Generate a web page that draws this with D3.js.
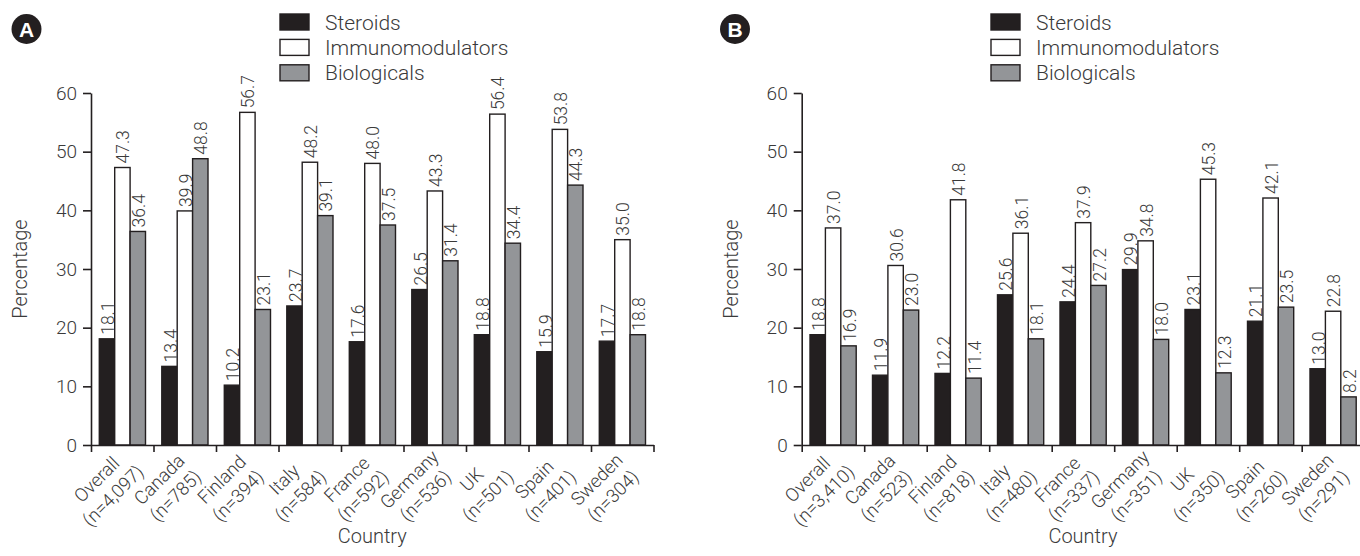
<!DOCTYPE html>
<html>
<head>
<meta charset="utf-8">
<script src="https://cdn.jsdelivr.net/npm/d3@7"></script>
<style>
  body { margin: 0; background: #fff; }
  svg { display: block; font-family: Roboto, "Liberation Sans", sans-serif; font-weight: 300; }
  .domain, .tick line { stroke: #231f20; stroke-width: 1.6px; }
  .tick text { fill: #3a3a3a; font-size: 19px; font-family: Roboto, "Liberation Sans", sans-serif; font-weight: 300; }
</style>
</head>
<body>
<svg id="chart" width="1360" height="556"></svg>
<script>
(function() {

  'use strict';

  var countries = ['Overall', 'Canada', 'Finland', 'Italy', 'France', 'Germany', 'UK', 'Spain', 'Sweden'];
  var series = ['Steroids', 'Immunomodulators', 'Biologicals'];
  var nA = ['4,097', '785', '394', '584', '592', '536', '501', '401', '304'];
  var nB = ['3,410', '523', '818', '480', '337', '351', '350', '260', '291'];

  var steroidsA = [18.1, 13.4, 10.2, 23.7, 17.6, 26.5, 18.8, 15.9, 17.7];
  var immunoA   = [47.3, 39.9, 56.7, 48.2, 48.0, 43.3, 56.4, 53.8, 35.0];
  var bioA      = [36.4, 48.8, 23.1, 39.1, 37.5, 31.4, 34.4, 44.3, 18.8];

  var steroidsB = [18.8, 11.9, 12.2, 25.6, 24.4, 29.9, 23.1, 21.1, 13.0];
  var immunoB   = [37.0, 30.6, 41.8, 36.1, 37.9, 34.8, 45.3, 42.1, 22.8];
  var bioB      = [16.9, 23.0, 11.4, 18.1, 27.2, 18.0, 12.3, 23.5, 8.2];

  var yTicks = [0, 10, 20, 30, 40, 50, 60];

  var fills = { Steroids: '#231f20', Immunomodulators: '#ffffff', Biologicals: '#939598' };
  var strokeColor = '#231f20';
  var textColor = '#3a3a3a';

  var svg = d3.select('#chart');

  var y = d3.scaleLinear().domain([0, 60]).range([445, 93]);

  function drawPanel(cfg) {
    var g = svg.append('g');
    var groupW = 62.5;
    var x = d3.scaleBand().domain(countries).range([cfg.left, cfg.left + groupW * countries.length]);
    var xb = d3.scaleBand().domain(series).range([8.3, 8.3 + 46.2]);
    var xEdge = d3.scaleLinear().domain([0, countries.length]).range(x.range());

    var rows = countries.map(function(c, i) {
      return { country: c, n: cfg.n[i], values: [cfg.steroids[i], cfg.immuno[i], cfg.bio[i]] };
    });

    // bars
    var groups = g.selectAll('.grp').data(rows).enter().append('g')
      .attr('class', 'grp')
      .attr('transform', function(d) { return 'translate(' + x(d.country) + ',0)'; });

    groups.selectAll('rect').data(function(d) {
      return d.values.map(function(v, j) { return { s: series[j], v: v }; });
    }).enter().append('rect')
      .attr('x', function(d) { return xb(d.s); })
      .attr('y', function(d) { return y(d.v); })
      .attr('width', xb.bandwidth())
      .attr('height', function(d) { return y(0) - y(d.v); })
      .attr('fill', function(d) { return fills[d.s]; })
      .attr('stroke', strokeColor)
      .attr('stroke-width', 1.4);

    groups.selectAll('.val').data(function(d) {
      return d.values.map(function(v, j) { return { s: series[j], v: v }; });
    }).enter().append('text')
      .attr('class', 'val')
      .attr('transform', function(d) {
        return 'translate(' + (xb(d.s) + xb.bandwidth() / 2 + 7) + ',' + (y(d.v) - 4) + ') rotate(-90)';
      })
      .attr('fill', textColor)
      .style('font-size', '17.5px')
      .text(function(d) { return d.v.toFixed(1); });

    // axes
    g.append('g')
      .attr('transform', 'translate(' + cfg.left + ',0)')
      .call(d3.axisLeft(y).tickValues(yTicks).tickSize(8).tickSizeOuter(0).tickPadding(6));

    g.append('g')
      .attr('transform', 'translate(0,' + y(0) + ')')
      .call(d3.axisBottom(xEdge).ticks(countries.length).tickSize(7).tickSizeOuter(0).tickFormat(''));

    // category labels
    var labels = g.selectAll('.xlab').data(rows).enter().append('text')
      .attr('class', 'xlab')
      .attr('transform', function(d) {
        return 'translate(' + (x(d.country) + x.bandwidth() / 2 - 21) + ',' + (y(0) + 39) + ') rotate(-45)';
      })
      .attr('text-anchor', 'middle')
      .attr('fill', textColor)
      .style('font-size', '18.5px');
    labels.append('tspan').attr('x', 0).attr('y', 0).text(function(d) { return d.country; });
    labels.append('tspan').attr('x', 0).attr('y', 23).text(function(d) { return '(n=' + d.n + ')'; });

    // axis titles
    g.append('text')
      .attr('transform', 'translate(' + (cfg.left - 64) + ',' + ((y(0) + y(60)) / 2) + ') rotate(-90)')
      .attr('text-anchor', 'middle')
      .attr('fill', textColor)
      .style('font-size', '20px')
      .text('Percentage');

    g.append('text')
      .attr('x', (x.range()[0] + x.range()[1]) / 2)
      .attr('y', 543)
      .attr('text-anchor', 'middle')
      .attr('fill', textColor)
      .style('font-size', '20px')
      .text('Country');

    // legend
    var leg = g.selectAll('.leg').data(series).enter().append('g')
      .attr('class', 'leg')
      .attr('transform', function(d, i) { return 'translate(' + cfg.legendX + ',' + (14 + i * 25.4) + ')'; });
    leg.append('rect')
      .attr('width', 29).attr('height', 16)
      .attr('fill', function(d) { return fills[d]; })
      .attr('stroke', strokeColor).attr('stroke-width', 1.4);
    leg.append('text')
      .attr('x', 45).attr('y', 15.5)
      .attr('fill', textColor)
      .style('font-size', '21px')
      .text(function(d) { return d; });

    // panel letter
    g.append('circle')
      .attr('cx', cfg.badgeX).attr('cy', 29).attr('r', 15)
      .attr('fill', '#231f20');
    g.append('text')
      .attr('x', cfg.badgeX).attr('y', 36.5)
      .attr('text-anchor', 'middle')
      .attr('fill', '#fff')
      .style('font-size', '21px')
      .style('font-weight', 'bold')
      .style('font-family', '"Liberation Sans", Arial, sans-serif')
      .text(cfg.letter);
  }

  drawPanel({ left: 91, n: nA, steroids: steroidsA, immuno: immunoA, bio: bioA, legendX: 280, badgeX: 26.5, letter: 'A' });
  drawPanel({ left: 801.7, n: nB, steroids: steroidsB, immuno: immunoB, bio: bioB, legendX: 991, badgeX: 735, letter: 'B' });

})();
</script>
</body>
</html>
